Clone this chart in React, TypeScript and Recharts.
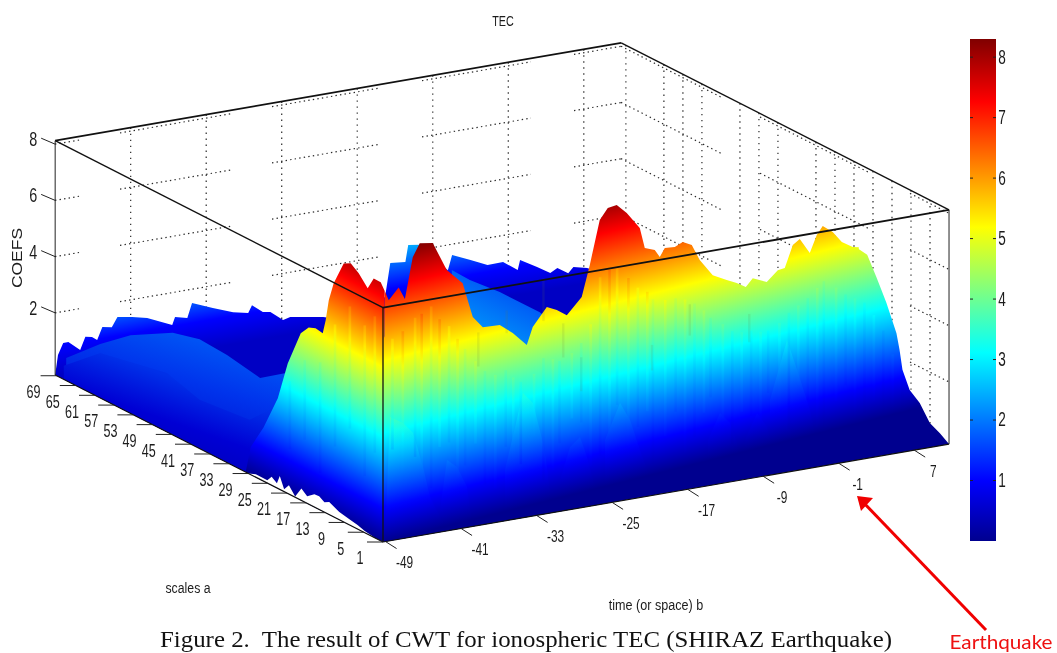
import React from 'react';
import { ComposedChart, XAxis, YAxis, Area, Line, Scatter, ReferenceArea } from 'recharts';

// ---------- axis values ----------
const timeTicks = [-49, -41, -33, -25, -17, -9, -1, 7];
const scaleTicks = [69, 65, 61, 57, 53, 49, 45, 41, 37, 33, 29, 25, 21, 17, 13, 9, 5, 1];
const coefTicks = [2, 4, 6, 8];
const colorbarTicks = [1, 2, 3, 4, 5, 6, 7, 8];
const wallTimeGrid = [-41, -33, -25, -17, -9, -1, 7];
const wallScaleGrid = [5, 9, 13, 17, 21, 25, 29, 37, 41, 45, 53, 57, 61, 69];
const T_MIN = -49, T_MAX = 10.96, S_MIN = 1, S_MAX = 69.3, H_TOP = 8.25, CB_MAX = 8.3;

// ---------- surface: back ridge, row at the largest scale ----------
const backB = [-49, -48.7, -48.15, -47.6, -46.35, -45.8, -45.1, -44.55, -44, -43, -42.4, -40.85, -39.25, -36.6, -36.3, -35, -34.5, -32.3, -30.15, -28.55, -28.15, -27, -26.2, -24.85, -24.1, -20.6, -18.3, -14.05, -13.5, -11.9, -11.6, -10.3, -7.4, -6.95, -5, -3.2, -1.55, 0, 0.25, 2.05, 3.45, 4.2, 5.35, 5.9, 7.35, 8.75, 10.96];
const backZ = [0, 0.69, 1.08, 1.08, 0.73, 1.16, 1.11, 0.98, 1.4, 1.34, 1.66, 1.57, 1.45, 1.05, 1.31, 1.2, 1.7, 1.4, 1.13, 1.01, 1.26, 0.95, 0.91, 0.55, 0.61, 0.41, 0.17, 0.74, 1.9, 1.85, 2.43, 2.36, 1.3, 1.81, 1.52, 1.24, 1.25, 0.88, 1.22, 0.87, 0.58, 0.71, 0.46, 0.65, 0.53, 0.3, 0];

// interior ridges of the left face, profile along scale at the first time
const ridgeMidA = [67, 59.9, 53.6, 44.8, 39.2, 33.5, 26.6, 20.4, 13.1];
const ridgeMidZ = [0.8, 1.9, 2.75, 3.6, 3.85, 3.79, 3.57, 4.31, 5.5];
const ridgeLowA = [67.5, 59.9, 46, 39.2, 28.8, 20.4, 13.1];
const ridgeLowZ = [0.48, 1.58, 2.08, 1.72, 1.91, 3.33, 4.5];

// light band behind the middle peaks, row at scale 40
const bandB = [-21.88, -19.97, -16.8, -12.56, -8.85, -7.26];
const bandZ = [4.66, 4.2, 3.59, 2.64, 1.44, 0.92];

// left wall, row at scale 29.6
const wallB = [-49, -48.47, -47.1, -45.6, -44.55, -43.17, -42.33, -41.6, -40.84, -40.53, -40.2, -39.68, -38.62, -37.88, -37.03, -36.08, -35.44, -34.7, -34.3];
const wallZ = [0, 0.85, 1.47, 2.4, 3.57, 4.55, 4.71, 4.64, 4.42, 4.86, 5.54, 6.11, 6.75, 6.71, 6.31, 5.73, 6.04, 5.86, 5.55];
const shoulderB = [-34.3, -33.85, -32.8, -32.05, -31.2];
const shoulderZ = [5.55, 5.18, 5.57, 5.07, 4.6];

// main ridge, row at scale 19.8
const frontB = [-39.47, -37.14, -36.29, -35.55, -34.17, -32.69, -31, -30.25, -29.93, -28.87, -27.07, -25.7, -24.21, -23.58, -22.09, -21.03, -19.97, -18.39, -17.54, -16.48, -15.63, -14.68, -13.62, -12.24, -11.71, -10.65, -10.12, -9.59, -8.53, -7.69, -6.73, -5.89, -4.51, -3.03, -1.97, -1.01, -0.27, 1.21, 2.38, 3.12, 3.97, 4.71, 5.77, 6.51, 7.14, 8.2, 9.16, 10.32, 10.96];
const frontZ = [4.94, 6.22, 7.68, 8.13, 8.06, 7.02, 6.46, 5.58, 5.21, 4.79, 4.76, 4.4, 3.89, 4.49, 5.11, 4.94, 4.7, 5.25, 6.32, 7.85, 8.22, 8.27, 7.93, 7.32, 6.59, 6.46, 6.18, 6.47, 6.44, 6.57, 6.41, 5.83, 5.22, 4.96, 4.8, 4.6, 4.87, 4.65, 5.0, 5.03, 5.79, 5.96, 5.41, 6.0, 6.28, 6.01, 5.6, 5.36, 5.31];

// right edge, profile along scale at the last time
const edgeA = [20, 18.05, 16.16, 15.1, 14.05, 13, 11.95, 11.3, 10.7, 9.2, 7.1, 5, 2.9, 1];
const edgeZ = [5.25, 5.2, 4.59, 4.22, 3.85, 3.41, 2.96, 2.43, 1.78, 1.2, 0.92, 0.4, 0.22, 0];

// foothills on the front row, scale 1
const hillsB = [
  [-48.8, -48.26, -46.88, -45.82, -44.76, -44.02, -42.96, -42.1],
  [-42.96, -42.22, -41.16, -40.1, -39.78, -39.36],
  [-36.08, -34.17, -33.11, -32.05, -31.63, -31.1],
  [-30.25, -29.19, -28.13, -27.39, -26.75, -26.01],
  [-25.48, -23.89, -22.83, -21.78, -21.03, -20.29],
  [-14.57, -13.3, -12.24, -11.5, -10.97],
  [-10.65, -9.38, -8.32, -7.69, -7.16],
  [-8, -6.2, -5.14, -3.77, -2.71, -2.18],
];
const hillsZ = [
  [0, 4.36, 4.07, 3.66, 2.4, 1.3, 0.53, 0],
  [0.78, 2.5, 2.19, 1.43, 0.6, 0],
  [1.79, 4.39, 3.98, 2.51, 1.64, 0],
  [1.1, 2.2, 2.5, 1.75, 0.9, 0],
  [2.24, 3.45, 2.79, 1.67, 0.93, 0],
  [1.61, 2.49, 2.08, 1.33, 0],
  [1.39, 2.26, 1.71, 0.86, 0],
  [2.64, 4.65, 3.54, 2.05, 0.22, 0],
];

// vertical fringes on the front face
const fringeDarkB = [-48, -45.6, -43.9, -42, -40.3, -38.2, -36, -34.4, -32, -30.3, -28, -26, -24.2, -22, -20.4, -18, -16, -14.3, -12, -10, -8.2, -6, -4, -2.3, 0, 2, 4, 6];
const fringeDarkTop = [7.1, 7.7, 8.0, 7.2, 6.3, 5.4, 5.3, 4.8, 5.5, 5.3, 5.8, 8.0, 8.2, 7.4, 6.9, 6.8, 6.5, 5.9, 5.3, 5.2, 5.1, 5.6, 6.0, 6.5, 5.9, 5.5, 4.4, 2.6];
const fringeDarkLow = [3.2, 2.8, 1.6, 3.1, 2.2, 1.4, 2.6, 1.9, 1.2, 2.4, 3.0, 1.7, 3.4, 2.5, 1.1, 2.8, 1.8, 3.1, 1.3, 2.2, 2.9, 1.5, 2.4, 1.2, 2.7, 1.6, 1.0, 0.6];
const fringeLightB = [-46.9, -44.9, -43, -41.1, -39.2, -37.1, -35.2, -33, -31, -29, -27, -25, -23, -21, -19.1, -17, -15, -13, -11, -9, -7, -5, -3, -1, 1, 3, 5, 7];
const fringeLightTop = [7.3, 7.8, 7.5, 6.7, 5.8, 5.2, 5.0, 5.0, 5.4, 5.5, 6.4, 8.2, 7.8, 7.2, 6.8, 6.7, 6.2, 5.6, 5.2, 5.1, 5.3, 5.8, 6.3, 6.2, 5.7, 5.0, 3.5, 1.8];
const fringeLightLow = [2.4, 1.5, 3.0, 1.8, 2.9, 1.2, 2.1, 2.8, 1.5, 3.2, 1.4, 2.5, 1.2, 3.0, 2.0, 1.3, 2.6, 1.7, 2.4, 1.2, 2.0, 3.0, 1.4, 2.2, 1.1, 2.0, 0.9, 0.5];

// fringes on the left face, profile along scale at the first time
const fringeLeftA = [20.4, 17.3, 14.1, 11, 7.9, 4.8, 2.7];
const fringeLeftTop = [4.0, 5.0, 5.2, 6.8, 7.7, 7.3, 7.8];
const fringeLeftLow = [1.6, 2.2, 1.3, 2.5, 3.4, 2.0, 3.0];

// thin dull streaks near the top of the ridges, front row
const streakB = [-38.9, -35.9, -32, -29.9, -28, -20.5, -16.5, -10.2];
const streakTop = [6.8, 7.4, 8.3, 6.6, 5.3, 5.3, 6.5, 5.8];
const streakLow = [5.6, 6.6, 6.8, 5.4, 4.1, 4.4, 5.4, 4.8];

// white notches along the lower left edge, profile along scale
const notchA = [29, 27.5, 26.4, 25.1, 24.2, 23.1, 22.5, 21.6, 20.6, 19.3, 18, 16.8, 15.3, 14.3, 13.2, 12.2, 10.1, 8, 6.3, 4.8, 2.7, 1];
const notchZ = [0, 0.1, 0.1, 0.1, 0.3, 0.17, 0.47, 0.08, 0.31, 0.03, 0.42, 0.25, 0.45, 0.47, 0.35, 0.44, 0.27, 0.2, 0.14, 0.06, 0, 0];

// ---------- chart geometry (a fixed oblique view of the box) ----------
const W = 1057, H = 653;
const OX = 383, OY = 542, KBX = 9.44, KBY = 1.633, KAX = 4.8, KAY = 2.445, KZ = 28.4;
const project = (b: number, a: number, h: number) => ({
  x: OX + KBX * (b + 49) - KAX * (a - 1),
  y: OY - KBY * (b + 49) - KAY * (a - 1) - KZ * h,
});
const floorY = (x: number) => (x < OX ? OY - (OX - x) * (KAY / KAX) : OY - (x - OX) * (KBY / KBX));
const levelH = (z: number) => (z + 0.21) * 0.99;

const band = (pts: { x: number; y: number }[]) =>
  pts.map((p) => ({ x: p.x, band: [p.y, Math.max(p.y, floorY(p.x))] }));
const rowBand = (a: number, bs: number[], zs: number[]) => band(bs.map((b, i) => project(b, a, zs[i])));
const scaleBand = (b: number, as: number[], zs: number[]) => band(as.map((a, i) => project(b, a, zs[i])));

// ---------- colours ----------
const JET: [number, string][] = [[0, '#00008f'], [0.12, '#0000ff'], [0.375, '#00ffff'], [0.625, '#ffff00'], [0.875, '#ff0000'], [1, '#800000']];
const jetStops = JET.map(([o, c]) => <stop key={o} offset={o} stopColor={c} />);
const backStops = JET.map(([o, c]) => <stop key={o} offset={o} stopColor={o === 0 ? '#0000c4' : c} />);
const slant = (id: string, ax: number, ay: number, s: number, h: number, stops: React.ReactNode = jetStops) => {
  const t = h / (1 + s * s);
  return (
    <linearGradient key={id} id={id} gradientUnits="userSpaceOnUse" x1={ax} y1={ay} x2={ax + s * t} y2={ay - t}>
      {stops}
    </linearGradient>
  );
};
const S_R = -0.25, S_L = 0.51;
const FONT = "'Liberation Sans',Arial,sans-serif";
const INK = '#2a2a2a';

const surf = (key: string, data: any[], fill: string, opacity = 1, z = 100) => (
  <Area key={key} data={data} dataKey="band" type="linear" stroke="none" fill={fill} fillOpacity={opacity}
    dot={false} activeDot={false} isAnimationActive={false} legendType="none" {...({ zIndex: z } as any)} />
);
const seg = (key: string, pts: { x: number; y: number }[], stroke: string, w: number, z = 400, dash?: string, op = 1) => (
  <Line key={key} data={pts} dataKey="y" type="linear" stroke={stroke} strokeWidth={w} strokeDasharray={dash} strokeOpacity={op}
    dot={false} activeDot={false} isAnimationActive={false} legendType="none" {...({ zIndex: z } as any)} />
);
const texts = (key: string, data: { x: number; y: number; label: string }[], style: any) => (
  <Scatter key={key} data={data} dataKey="y" isAnimationActive={false} legendType="none"
    shape={(p: any) => (
      <text x={0} y={0} textAnchor="middle" dominantBaseline="central"
        transform={`translate(${p.cx} ${p.cy}) rotate(${style.rotate ?? 0}) scale(${style.sx ?? 1} 1)`}
        fontFamily={style.family ?? FONT} fontSize={style.size} fill={style.fill ?? '#1c1c1c'}
        textLength={style.length} lengthAdjust="spacingAndGlyphs" style={{ whiteSpace: 'pre' }}>
        {p.payload.label}
      </text>
    )} />
);

// wall gridline stretches, as seen between the ticks
const LEFT_RUNS = [[55, 80], [120, 232], [272, 380], [422, 531], [574, 621]];
const RIGHT_RUNS = [[621, 722], [760, 870], [910, 949]];
const onLeftWall = (x: number, z: number) => project((x - project(-49, S_MAX, 0).x) / KBX - 49, S_MAX, levelH(z));
const onRightWall = (x: number, z: number) => project(T_MAX, S_MIN + (project(T_MAX, S_MIN, 0).x - x) / KAX, levelH(z));

export default function App() {
  const gridLines = [
    ...wallTimeGrid.map((b) => seg(`gl${b}`, [project(b, S_MAX, H_TOP), project(b, S_MAX, 0)], INK, 1.2, 50, '1.4 4.6')),
    ...wallScaleGrid.map((a) => {
      const a2 = 1 + (a - 1) * 0.99;
      return seg(`gr${a}`, [project(T_MAX, a2, H_TOP), project(T_MAX, a2, 0)], INK, 1.2, 50, '1.4 4.6');
    }),
    ...coefTicks.flatMap((z) => [
      ...LEFT_RUNS.map(([p, q]) => seg(`hl${z}${p}`, [onLeftWall(p, z), onLeftWall(q, z)], INK, 1.2, 50, '1.4 3.2')),
      ...RIGHT_RUNS.map(([p, q]) => seg(`hr${z}${p}`, [onRightWall(p, z), onRightWall(q, z)], INK, 1.2, 50, '1.4 3.2')),
    ]),
  ];

  const P = (b: number, a: number, h: number) => project(b, a, h);
  const bMin = T_MIN;
  const LTOP = P(bMin, S_MAX, H_TOP), FTOP = P(bMin, S_MIN, H_TOP), RTOP = P(T_MAX, S_MIN, H_TOP), BTOP = P(T_MAX, S_MAX, H_TOP);
  const LBOT = P(bMin, S_MAX, 0), FBOT = P(bMin, S_MIN, 0), RBOT = P(T_MAX, S_MIN, 0);

  const boxLines = [
    seg('b1', [LTOP, BTOP], '#111', 1.7),
    seg('b2', [BTOP, RTOP], '#111', 1.4),
    seg('b3', [LTOP, FTOP], '#111', 1.4),
    seg('b4', [FTOP, RTOP], '#111', 1.8),
    seg('b5', [LTOP, LBOT], '#222', 1),
    seg('b6', [FTOP, FBOT], '#111', 1.3),
    seg('b7', [RTOP, RBOT], '#222', 1),
    seg('b8', [LBOT, FBOT], '#111', 1.2),
    seg('b9', [FBOT, RBOT], '#111', 1.2),
  ];

  const ticks = [
    ...coefTicks.map((z) => {
      const q = project(bMin, S_MAX, levelH(z));
      return seg(`tz${z}`, [q, { x: q.x - 14, y: q.y - 6 }], '#222', 1);
    }),
    ...scaleTicks.map((a) => {
      const q = project(bMin, a, 0);
      return seg(`ta${a}`, [q, { x: q.x - 16, y: q.y }], '#222', 1);
    }),
    ...timeTicks.map((b) => {
      const q = project(b + 0.27, S_MIN, 0);
      return seg(`tb${b}`, [q, { x: q.x + 11, y: q.y + 7 }], '#222', 1);
    }),
  ];

  const cbY = (v: number) => 541 - (v / CB_MAX) * 502;
  const cbTicks = colorbarTicks.flatMap((v) => [
    seg(`cl${v}`, [{ x: 970, y: cbY(v) }, { x: 973, y: cbY(v) }], '#222', 1),
    seg(`cr${v}`, [{ x: 993, y: cbY(v) }, { x: 996, y: cbY(v) }], '#222', 1),
  ]);

  const fringes = [
    ...fringeDarkB.map((b, i) => seg(`fd${i}`, [project(b, 1, fringeDarkTop[i]), project(b, 1, fringeDarkLow[i])], 'url(#frontDark)', 2.6, 150, undefined, 0.55)),
    ...fringeLightB.map((b, i) => seg(`fb${i}`, [project(b, 1, fringeLightTop[i]), project(b, 1, fringeLightLow[i])], 'url(#frontLight)', 2.6, 150, undefined, 0.55)),
    ...fringeLeftA.map((a, i) => seg(`fl${i}`, [project(-49, a, fringeLeftTop[i]), project(-49, a, fringeLeftLow[i])], 'url(#leftDark)', 2.6, 150, undefined, 0.5)),
    ...streakB.map((b, i) => seg(`st${i}`, [project(b, 1, streakTop[i]), project(b, 1, streakLow[i])], '#6e7a3a', 2.4, 155, undefined, 0.13)),
  ];

  return (
    <div style={{ position: 'absolute', left: 0, top: 0, width: W, height: H, filter: 'blur(0.5px)' }}>
      <ComposedChart width={W} height={H} margin={{ top: 0, right: 0, bottom: 0, left: 0 }} data={[]}>
        <defs>
          {slant('frontJet', OX, OY, S_R, 290)}
          {slant('frontDark', OX, OY, S_R, 306)}
          {slant('frontLight', OX, OY, S_R, 274)}
          {slant('hillJet', OX, OY, S_R, 250)}
          {slant('leftJet', OX, OY, S_L, 280)}
          {slant('leftDark', OX, OY, S_L, 298)}
          {slant('backJet', 55, 375, -0.173, 236, backStops)}
          {slant('ridgeMid', 180, 440, 0.3, 112, [
            <stop key="a" offset={0} stopColor="#0010d4" />,
            <stop key="b" offset={0.55} stopColor="#0034ec" />,
            <stop key="c" offset={1} stopColor="#0058f6" />,
          ])}
          {slant('ridgeLow', 180, 480, 0.35, 100, [
            <stop key="a" offset={0} stopColor="#0000b4" />,
            <stop key="b" offset={0.55} stopColor="#0000d4" />,
            <stop key="c" offset={1} stopColor="#0030e8" />,
          ])}
          {slant('bandJet', 520, 350, 0.5, 60, [
            <stop key="a" offset={0} stopColor="#0090fa" />,
            <stop key="b" offset={1} stopColor="#0050f5" />,
          ])}
          <linearGradient id="cbJet" x1="0" y1="1" x2="0" y2="0">{jetStops}</linearGradient>
        </defs>
        <XAxis type="number" dataKey="x" domain={[0, W]} hide allowDataOverflow />
        <YAxis type="number" domain={[0, H]} reversed hide allowDataOverflow />

        {gridLines}

        {surf('back', rowBand(S_MAX, backB, backZ), 'url(#backJet)')}
        {surf('band', rowBand(40, bandB, bandZ), 'url(#bandJet)')}
        {surf('rmid', scaleBand(-49, ridgeMidA, ridgeMidZ), 'url(#ridgeMid)')}
        {surf('rlow', scaleBand(-49, ridgeLowA, ridgeLowZ), 'url(#ridgeLow)')}
        {surf('shoulder', rowBand(29.6, shoulderB, shoulderZ), 'url(#frontJet)')}
        {surf('wall', rowBand(29.6, wallB, wallZ), 'url(#leftJet)')}
        {surf('front', rowBand(19.8, frontB, frontZ), 'url(#frontJet)')}
        {surf('edge', scaleBand(T_MAX, edgeA, edgeZ), 'url(#frontJet)')}
        {hillsB.map((bs, i) => surf(`hill${i}`, rowBand(1, bs, hillsZ[i]), 'url(#hillJet)', 0.3, 120))}
        {fringes}
        {surf('notch', scaleBand(-49, notchA, notchZ), '#ffffff', 1, 160)}

        {boxLines}
        {ticks}

        <ReferenceArea x1={970} x2={996} y1={39} y2={541} fill="url(#cbJet)" fillOpacity={1} stroke="none" />
        {cbTicks}

        {seg('arrow', [{ x: 986, y: 630 }, { x: 862, y: 501 }], '#f00000', 3)}
        {surf('arrowHead', [
          { x: 857, band: [496, 496] },
          { x: 861, band: [496.5, 511] },
          { x: 873, band: [498, 498] },
        ], '#f00000', 1, 400)}

        {texts('title', [{ x: 503, y: 21, label: 'TEC' }], { size: 15, sx: 0.72 })}
        {texts('ylab', [{ x: 17, y: 258, label: 'COEFS' }], { size: 14, rotate: -90, length: 60 })}
        {texts('alab', [{ x: 188, y: 588, label: 'scales a' }], { size: 15, sx: 0.82 })}
        {texts('blab', [{ x: 656, y: 605, label: 'time (or space) b' }], { size: 15, sx: 0.84 })}
        {texts('zt', coefTicks.map((z) => {
          const q = project(bMin, S_MAX, levelH(z));
          return { x: q.x - 22, y: q.y - 5, label: String(z) };
        }), { size: 20, sx: 0.72 })}
        {texts('at', scaleTicks.map((a) => {
          const q = project(bMin, a, 0);
          return { x: q.x - 23, y: q.y + 16, label: String(a) };
        }), { size: 18, sx: 0.7 })}
        {texts('bt', timeTicks.map((b) => {
          const q = project(b + 0.27, S_MIN, 0);
          return { x: q.x + 19, y: q.y + 21, label: String(b) };
        }), { size: 17, sx: 0.7 })}
        {texts('cbt', colorbarTicks.map((v) => ({ x: 1002, y: cbY(v), label: String(v) })), { size: 20, sx: 0.68 })}
        {texts('cap', [{ x: 526, y: 639, label: 'Figure 2.  The result of CWT for ionospheric TEC (SHIRAZ Earthquake)' }], { size: 23.5, family: "'Liberation Serif',serif", fill: '#111', length: 732 })}
        {texts('quake', [{ x: 1001, y: 641, label: 'Earthquake' }], { size: 19, family: "Lato,sans-serif", fill: '#ee1111', length: 103 })}
      </ComposedChart>
    </div>
  );
}
